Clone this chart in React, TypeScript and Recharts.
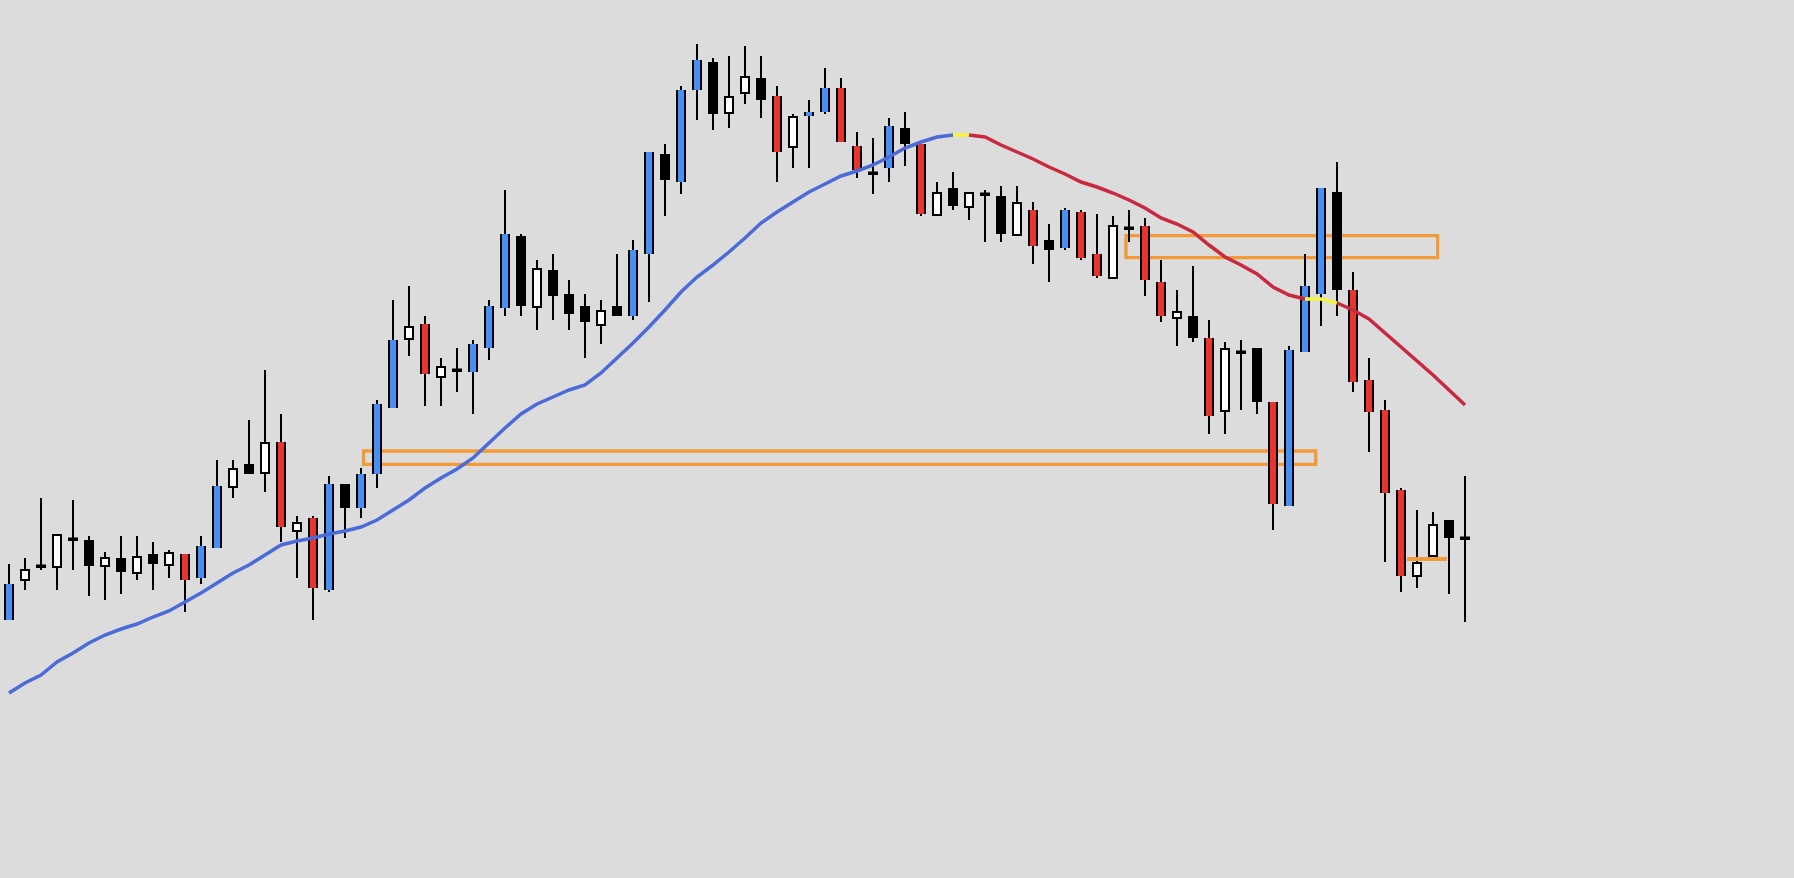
import React from 'react';
import { ComposedChart, Bar, Line, XAxis, YAxis, ReferenceArea, ReferenceLine } from 'recharts';

// candle prices, one entry per bar
const opens = [
  1.2380, 1.2419, 1.2434, 1.2432, 1.2461, 1.2460, 1.2433, 1.2442, 1.2426, 1.2446,
  1.2434, 1.2446, 1.2422, 1.2452, 1.2512, 1.2536, 1.2526, 1.2558, 1.2468, 1.2482,
  1.2410, 1.2516, 1.2492, 1.2526, 1.2592, 1.2660, 1.2676, 1.2622, 1.2630, 1.2628,
  1.2652, 1.2692, 1.2764, 1.2692, 1.2730, 1.2706, 1.2694, 1.2674, 1.2694, 1.2684,
  1.2746, 1.2846, 1.2818, 1.2910, 1.2938, 1.2886, 1.2906, 1.2922, 1.2904, 1.2852,
  1.2884, 1.2888, 1.2912, 1.2854, 1.2827, 1.2832, 1.2872, 1.2856, 1.2784, 1.2812,
  1.2792, 1.2806, 1.2804, 1.2764, 1.2790, 1.2760, 1.2752, 1.2788, 1.2746, 1.2721,
  1.2772, 1.2774, 1.2718, 1.2681, 1.2684, 1.2662, 1.2588, 1.2648, 1.2652, 1.2598,
  1.2494, 1.2648, 1.2706, 1.2808, 1.2710, 1.2620, 1.2590, 1.2510, 1.2423, 1.2443,
  1.2480, 1.2462,
];
const highs = [
  1.2436, 1.2442, 1.2502, 1.2466, 1.2500, 1.2464, 1.2448, 1.2464, 1.2464, 1.2458,
  1.2450, 1.2446, 1.2464, 1.2540, 1.2540, 1.2580, 1.2630, 1.2586, 1.2484, 1.2484,
  1.2524, 1.2516, 1.2532, 1.2600, 1.2700, 1.2714, 1.2684, 1.2642, 1.2652, 1.2660,
  1.2700, 1.2810, 1.2766, 1.2740, 1.2746, 1.2720, 1.2706, 1.2700, 1.2746, 1.2760,
  1.2848, 1.2856, 1.2914, 1.2956, 1.2942, 1.2944, 1.2954, 1.2944, 1.2914, 1.2886,
  1.2900, 1.2932, 1.2922, 1.2868, 1.2862, 1.2882, 1.2888, 1.2856, 1.2818, 1.2828,
  1.2808, 1.2810, 1.2814, 1.2814, 1.2798, 1.2776, 1.2792, 1.2790, 1.2786, 1.2784,
  1.2790, 1.2782, 1.2740, 1.2710, 1.2734, 1.2680, 1.2658, 1.2660, 1.2652, 1.2598,
  1.2654, 1.2746, 1.2812, 1.2838, 1.2728, 1.2642, 1.2600, 1.2512, 1.2490, 1.2488,
  1.2480, 1.2524,
];
const lows = [
  1.2380, 1.2410, 1.2430, 1.2410, 1.2430, 1.2404, 1.2400, 1.2406, 1.2420, 1.2410,
  1.2422, 1.2388, 1.2416, 1.2452, 1.2502, 1.2526, 1.2508, 1.2458, 1.2422, 1.2380,
  1.2408, 1.2462, 1.2482, 1.2512, 1.2592, 1.2644, 1.2594, 1.2594, 1.2608, 1.2586,
  1.2640, 1.2684, 1.2684, 1.2670, 1.2680, 1.2670, 1.2642, 1.2656, 1.2684, 1.2680,
  1.2698, 1.2784, 1.2806, 1.2880, 1.2870, 1.2872, 1.2896, 1.2882, 1.2818, 1.2832,
  1.2832, 1.2886, 1.2858, 1.2822, 1.2806, 1.2818, 1.2834, 1.2784, 1.2784, 1.2790,
  1.2780, 1.2758, 1.2758, 1.2764, 1.2736, 1.2718, 1.2750, 1.2740, 1.2722, 1.2721,
  1.2758, 1.2704, 1.2678, 1.2654, 1.2658, 1.2566, 1.2566, 1.2590, 1.2586, 1.2470,
  1.2494, 1.2648, 1.2674, 1.2684, 1.2608, 1.2548, 1.2438, 1.2408, 1.2412, 1.2440,
  1.2406, 1.2378,
];
const closes = [
  1.2416, 1.2431, 1.2434, 1.2466, 1.2461, 1.2434, 1.2443, 1.2428, 1.2444, 1.2436,
  1.2448, 1.2420, 1.2454, 1.2514, 1.2532, 1.2526, 1.2558, 1.2473, 1.2478, 1.2412,
  1.2516, 1.2492, 1.2526, 1.2596, 1.2660, 1.2674, 1.2626, 1.2634, 1.2630, 1.2656,
  1.2694, 1.2766, 1.2694, 1.2732, 1.2704, 1.2686, 1.2678, 1.2690, 1.2684, 1.2750,
  1.2848, 1.2820, 1.2910, 1.2940, 1.2886, 1.2904, 1.2924, 1.2900, 1.2848, 1.2884,
  1.2888, 1.2912, 1.2858, 1.2830, 1.2827, 1.2874, 1.2856, 1.2786, 1.2808, 1.2794,
  1.2808, 1.2806, 1.2766, 1.2798, 1.2754, 1.2750, 1.2790, 1.2742, 1.2724, 1.2775,
  1.2772, 1.2720, 1.2684, 1.2689, 1.2662, 1.2584, 1.2652, 1.2648, 1.2598, 1.2496,
  1.2650, 1.2714, 1.2812, 1.2710, 1.2618, 1.2588, 1.2507, 1.2424, 1.2438, 1.2476,
  1.2462, 1.2462,
];
// b = blue, r = red, w = white, k = black, d = doji
const candleKinds = (
  'bwdwdkwkwk' + 'wrbbwkwrwr' + 'bkbbbwrwdb' + 'bbkwkkkwkb' + 'bkbbkwwkrw' +
  'bbrrdbkrwk' + 'wdkwrkbrrw' + 'drrwkrwdkr' + 'bbbkrrrrww' + 'kd'
).split('');

// moving average
const maValues = [
  1.2307, 1.2317, 1.2325, 1.2338, 1.2347, 1.2357, 1.2365, 1.2371, 1.2376, 1.2383,
  1.2389, 1.2398, 1.2407, 1.2417, 1.2427, 1.2435, 1.2445, 1.2455, 1.2459, 1.2462,
  1.2466, 1.2469, 1.2473, 1.2480, 1.2490, 1.2500, 1.2512, 1.2522, 1.2531, 1.2542,
  1.2557, 1.2572, 1.2586, 1.2596, 1.2603, 1.2610, 1.2615, 1.2627, 1.2642, 1.2657,
  1.2673, 1.2690, 1.2708, 1.2723, 1.2735, 1.2748, 1.2762, 1.2777, 1.2788, 1.2798,
  1.2808, 1.2816, 1.2824, 1.2829, 1.2835, 1.2843, 1.2852, 1.2858, 1.2863, 1.2865,
  1.2865, 1.2863, 1.2855, 1.2848, 1.2841, 1.2833, 1.2826, 1.2818, 1.2813, 1.2807,
  1.2800, 1.2792, 1.2782, 1.2776, 1.2768, 1.2755, 1.2743, 1.2735, 1.2726, 1.2713,
  1.2705, 1.2701, 1.2701, 1.2697, 1.2690, 1.2681, 1.2667, 1.2653, 1.2639, 1.2625,
  1.2610, 1.2595,
];
const maSegments = [
  { from: 0, to: 59, color: '#4b6bd9' },
  { from: 59, to: 60, color: '#f6f63e' },
  { from: 60, to: 81, color: '#c9283f' },
  { from: 81, to: 83, color: '#f6f63e' },
  { from: 83, to: 91, color: '#c9283f' },
];

// orange zones (bar index / price)
const zones = [
  { x1: 22.16, x2: 81.67, y1: 1.25357, y2: 1.2549 },
  { x1: 69.81, x2: 89.29, y1: 1.27423, y2: 1.27643 },
];
const levelLine = { x1: 87.375, x2: 89.875, y: 1.2441 };

const BG = '#dcdcdc';
const ORANGE = '#f29a38';
const KIND_FILL: Record<string, string> = { b: '#4590f5', r: '#e8342a', w: '#ffffff', k: '#000000', d: '#000000' };

const rows = opens.map((o, i) => {
  const row: any = {
    i,
    open: o,
    high: highs[i],
    low: lows[i],
    close: closes[i],
    kind: candleKinds[i],
    range: [lows[i], highs[i]],
  };
  maSegments.forEach((s, k) => {
    row['ma' + k] = i >= s.from && i <= s.to ? maValues[i] : null;
  });
  return row;
});

const Candle = (props: any) => {
  const { x, y, width, height, payload } = props;
  if (x == null || y == null) return null;
  const top = Math.min(y, y + height);
  const h = Math.abs(height);
  const cx = Math.round(x + width / 2);
  const span = payload.high - payload.low;
  const toY = (v: number) => (span === 0 ? top : top + ((payload.high - v) / span) * h);
  const bodyTop = toY(Math.max(payload.open, payload.close));
  const bodyBot = toY(Math.min(payload.open, payload.close));
  const kind = payload.kind;
  const bw = 10;
  const left = cx - bw / 2;
  let body: React.ReactNode = null;
  if (kind === 'd' || bodyBot - bodyTop < 2) {
    body = <rect x={left} y={bodyTop - 1.5} width={bw} height={3.5} fill="#000" />;
  } else if (kind === 'k') {
    body = <rect x={left} y={bodyTop} width={bw} height={bodyBot - bodyTop} fill="#000" />;
  } else if (kind === 'w') {
    body = (
      <g>
        <rect x={left} y={bodyTop} width={bw} height={bodyBot - bodyTop} fill="#000" />
        <rect x={left + 2} y={bodyTop + 2} width={bw - 4} height={Math.max(0, bodyBot - bodyTop - 4)} fill="#fff" />
      </g>
    );
  } else {
    body = (
      <g>
        <rect x={left} y={bodyTop} width={bw} height={bodyBot - bodyTop} fill="#000" />
        <rect x={left + 2} y={bodyTop} width={bw - 4} height={bodyBot - bodyTop} fill={KIND_FILL[kind]} />
      </g>
    );
  }
  return (
    <g>
      <rect x={cx - 1} y={top} width={2} height={Math.max(h, 1)} fill="#000" />
      {body}
    </g>
  );
};

export default function App() {
  return (
    <div style={{ position: 'absolute', left: 0, top: 0, width: 1794, height: 878, background: BG, overflow: 'hidden' }}>
      <ComposedChart width={1794} height={878} data={rows} margin={{ top: 0, right: 0, bottom: 0, left: 0 }}>
        <XAxis dataKey="i" type="number" domain={[-0.5625, 111.5625]} allowDataOverflow hide />
        <YAxis type="number" domain={[1.2122, 1.3]} allowDataOverflow hide />
        <Bar dataKey="range" barSize={10} shape={<Candle />} isAnimationActive={false} />
        {zones.map((z, k) => (
          <ReferenceArea
            key={'z' + k}
            x1={z.x1}
            x2={z.x2}
            y1={z.y1}
            y2={z.y2}
            fill="none"
            fillOpacity={0}
            stroke={ORANGE}
            strokeWidth={3.3}
          />
        ))}
        <ReferenceLine
          segment={[{ x: levelLine.x1, y: levelLine.y }, { x: levelLine.x2, y: levelLine.y }]}
          stroke={ORANGE}
          strokeWidth={4}
        />
        {maSegments.map((s, k) => (
          <Line
            key={'ma' + k}
            dataKey={'ma' + k}
            type="linear"
            stroke={s.color}
            strokeWidth={3.5}
            dot={false}
            activeDot={false}
            connectNulls={false}
            isAnimationActive={false}
          />
        ))}
      </ComposedChart>
    </div>
  );
}
